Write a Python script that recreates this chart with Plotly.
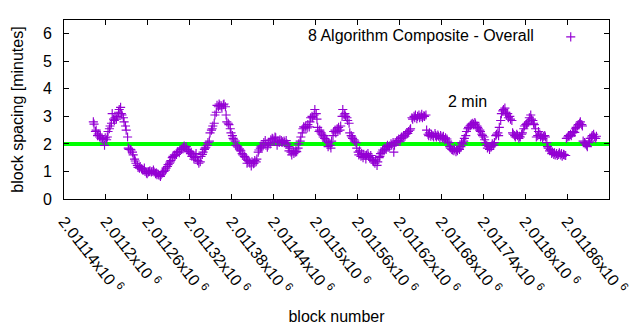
import plotly.graph_objects as go

# Block heights and the moving block spacing (minutes) sampled along the chain
blocks = [
    2011182, 2011183, 2011185, 2011186, 2011188, 2011189, 2011191,
    2011192, 2011193, 2011195, 2011196, 2011198, 2011199, 2011201,
    2011202, 2011203, 2011205, 2011206, 2011208, 2011209, 2011211,
    2011212, 2011213, 2011215, 2011216, 2011218, 2011219, 2011221,
    2011222, 2011223, 2011225, 2011226, 2011228, 2011229, 2011231,
    2011232, 2011233, 2011235, 2011236, 2011238, 2011239, 2011241,
    2011242, 2011243, 2011245, 2011246, 2011248, 2011249, 2011251,
    2011252, 2011253, 2011255, 2011256, 2011258, 2011259, 2011261,
    2011262, 2011263, 2011265, 2011266, 2011268, 2011269, 2011271,
    2011272, 2011273, 2011275, 2011276, 2011278, 2011279, 2011281,
    2011282, 2011283, 2011285, 2011286, 2011288, 2011289, 2011291,
    2011292, 2011293, 2011295, 2011296, 2011298, 2011299, 2011301,
    2011302, 2011303, 2011305, 2011306, 2011308, 2011309, 2011311,
    2011312, 2011313, 2011315, 2011316, 2011318, 2011319, 2011321,
    2011322, 2011323, 2011325, 2011326, 2011328, 2011329, 2011331,
    2011332, 2011333, 2011335, 2011336, 2011338, 2011339, 2011341,
    2011342, 2011343, 2011345, 2011346, 2011348, 2011349, 2011351,
    2011352, 2011353, 2011355, 2011356, 2011358, 2011359, 2011361,
    2011362, 2011363, 2011365, 2011366, 2011368, 2011369, 2011371,
    2011372, 2011373, 2011375, 2011376, 2011378, 2011379, 2011381,
    2011382, 2011383, 2011385, 2011386, 2011388, 2011389, 2011391,
    2011392, 2011393, 2011395, 2011396, 2011398, 2011399, 2011401,
    2011402, 2011403, 2011405, 2011406, 2011408, 2011409, 2011411,
    2011412, 2011413, 2011415, 2011416, 2011418, 2011419, 2011421,
    2011422, 2011423, 2011425, 2011426, 2011428, 2011429, 2011431,
    2011432, 2011433, 2011435, 2011436, 2011438, 2011439, 2011441,
    2011442, 2011443, 2011445, 2011446, 2011448, 2011449, 2011451,
    2011452, 2011453, 2011455, 2011456, 2011458, 2011459, 2011461,
    2011462, 2011463, 2011465, 2011466, 2011468, 2011469, 2011471,
    2011472, 2011473, 2011475, 2011476, 2011478, 2011479, 2011481,
    2011482, 2011483, 2011485, 2011486, 2011488, 2011489, 2011491,
    2011492, 2011493, 2011495, 2011496, 2011498, 2011499, 2011501,
    2011502, 2011503, 2011505, 2011506, 2011508, 2011509, 2011511,
    2011512, 2011513, 2011515, 2011516, 2011518, 2011519, 2011521,
    2011522, 2011523, 2011525, 2011526, 2011528, 2011529, 2011531,
    2011532, 2011533, 2011535, 2011536, 2011538, 2011539, 2011541,
    2011542, 2011543, 2011545, 2011546, 2011548, 2011549, 2011551,
    2011552, 2011553, 2011555, 2011556, 2011558, 2011559, 2011561,
    2011562, 2011563, 2011565, 2011566, 2011568, 2011569, 2011571,
    2011572, 2011573, 2011575, 2011576, 2011578, 2011579, 2011581,
    2011582, 2011583, 2011585, 2011586, 2011588, 2011589, 2011591,
    2011592, 2011593, 2011595, 2011596, 2011598, 2011599, 2011601,
    2011602, 2011603, 2011605, 2011606, 2011608, 2011609, 2011611,
    2011612, 2011613, 2011615, 2011616, 2011618, 2011619, 2011621,
    2011622, 2011623, 2011625, 2011626, 2011628, 2011629, 2011631,
    2011632, 2011633, 2011635, 2011636, 2011638, 2011639, 2011641,
    2011642, 2011643, 2011645, 2011646, 2011648, 2011649, 2011651,
    2011652, 2011653, 2011655, 2011656, 2011658, 2011659, 2011661,
    2011662, 2011663, 2011665, 2011666, 2011668, 2011669, 2011671,
    2011672, 2011673, 2011675, 2011676, 2011678, 2011679, 2011681,
    2011682, 2011683, 2011685, 2011686, 2011688, 2011689, 2011691,
    2011692, 2011693, 2011695, 2011696, 2011698, 2011699, 2011701,
    2011702, 2011703, 2011705, 2011706, 2011708, 2011709, 2011711,
    2011712, 2011713, 2011715, 2011716, 2011718, 2011719, 2011721,
    2011722, 2011723, 2011725, 2011726, 2011728, 2011729, 2011731,
    2011732, 2011733, 2011735, 2011736, 2011738, 2011739, 2011741,
    2011742, 2011743, 2011745, 2011746, 2011748, 2011749, 2011751,
    2011752, 2011753, 2011755, 2011756, 2011758, 2011759, 2011761,
    2011762, 2011763, 2011765, 2011766, 2011768, 2011769, 2011771,
    2011772, 2011773, 2011775, 2011776, 2011778, 2011779, 2011781,
    2011782, 2011783, 2011785, 2011786, 2011788, 2011789, 2011791,
    2011792, 2011793, 2011795, 2011796, 2011798, 2011799, 2011801,
    2011802, 2011803, 2011805, 2011806, 2011808, 2011809, 2011811,
    2011812, 2011813, 2011815, 2011816, 2011818, 2011819, 2011821,
    2011822, 2011823, 2011825, 2011826, 2011828, 2011829, 2011831,
    2011832, 2011833, 2011835, 2011836, 2011838, 2011839, 2011841,
    2011842, 2011843, 2011845, 2011846, 2011848, 2011849, 2011851,
    2011852, 2011853, 2011855, 2011856, 2011858, 2011859, 2011861,
    2011862, 2011863, 2011865, 2011866, 2011868, 2011869, 2011871,
    2011872, 2011873, 2011875, 2011876, 2011878, 2011879, 2011881,
    2011882, 2011883, 2011885, 2011886, 2011888, 2011889, 2011891,
    2011892, 2011893, 2011895, 2011896, 2011898, 2011899, 2011901,
    2011902,
]

spacing_minutes = [
    2.80, 2.72, 2.45, 2.50, 2.30, 2.36, 2.25,
    2.30, 2.20, 2.18, 2.15, 1.95, 2.22, 2.15,
    2.25, 2.45, 2.55, 2.65, 2.75, 3.10, 2.90,
    2.85, 2.95, 2.90, 3.00, 3.15, 3.25, 3.33,
    3.10, 3.05, 2.95, 2.80, 2.65, 2.50, 2.25,
    1.85, 1.80, 1.80, 1.78, 1.70, 1.60, 1.45,
    1.38, 1.30, 1.22, 1.15, 1.12, 1.18, 1.10,
    1.08, 1.05, 1.12, 1.00, 0.95, 0.92, 0.98,
    1.00, 1.02, 0.98, 1.00, 1.05, 0.98, 0.92,
    0.95, 0.88, 0.90, 0.86, 0.82, 0.88, 0.95,
    1.00, 1.00, 1.05, 1.12, 1.18, 1.25, 1.30,
    1.35, 1.40, 1.50, 1.55, 1.60, 1.58, 1.62,
    1.70, 1.72, 1.68, 1.78, 1.80, 1.85, 1.88,
    1.92, 1.85, 1.90, 1.80, 1.75, 1.72, 1.65,
    1.70, 1.55, 1.60, 1.45, 1.50, 1.65, 1.40,
    1.38, 1.30, 1.35, 1.55, 1.62, 1.70, 1.80,
    1.85, 1.88, 1.95, 2.05, 2.10, 2.40, 2.50,
    2.55, 2.65, 2.75, 3.05, 3.15, 3.40, 3.35,
    3.45, 3.40, 3.38, 3.30, 3.42, 3.45, 3.35,
    3.05, 2.80, 2.75, 2.70, 2.55, 2.40, 2.30,
    2.20, 2.15, 2.10, 1.95, 1.92, 1.88, 1.82,
    1.78, 1.75, 1.65, 1.60, 1.55, 1.52, 1.45,
    1.30, 1.40, 1.35, 1.30, 1.20, 1.35, 1.28,
    1.30, 1.40, 1.35, 1.45, 1.70, 1.78, 1.85,
    1.92, 1.88, 1.95, 2.05, 2.12, 1.95, 1.88,
    1.95, 2.05, 2.00, 2.15, 2.20, 2.18, 2.10,
    2.25, 2.22, 1.95, 2.10, 2.05, 2.15, 2.12,
    2.05, 2.08, 2.10, 2.05, 2.12, 2.00, 1.90,
    1.75, 1.85, 1.70, 1.60, 1.75, 1.65, 1.70,
    1.78, 1.72, 1.85, 2.00, 2.10, 2.25, 2.40,
    2.55, 2.62, 2.60, 2.65, 2.58, 2.70, 2.62,
    2.80, 2.95, 3.00, 2.95, 3.05, 3.25, 3.10,
    2.90, 2.60, 2.45, 2.50, 2.40, 2.35, 2.25,
    2.30, 2.20, 2.15, 2.10, 1.90, 2.05, 1.95,
    1.85, 2.10, 2.30, 2.45, 2.50, 2.40, 2.55,
    2.45, 2.60, 2.50, 2.65, 3.00, 3.25, 3.05,
    3.10, 3.00, 2.95, 2.85, 2.75, 2.40, 2.30,
    2.25, 2.20, 2.15, 2.10, 2.05, 1.85, 1.70,
    1.60, 1.75, 1.55, 1.65, 1.50, 1.62, 1.58,
    1.45, 1.60, 1.65, 1.55, 1.50, 1.58, 1.45,
    1.40, 1.35, 1.30, 1.42, 1.22, 1.35, 1.50,
    1.55, 1.65, 1.70, 1.78, 1.75, 1.85, 1.80,
    1.90, 1.95, 1.88, 1.92, 2.00, 1.95, 2.05,
    1.70, 1.95, 2.05, 2.10, 2.12, 2.18, 2.10,
    2.20, 2.25, 2.22, 2.30, 2.28, 2.35, 2.40,
    2.38, 2.45, 2.50, 2.55, 2.95, 2.90, 3.00,
    2.95, 3.05, 2.92, 3.00, 3.05, 2.95, 3.00,
    3.08, 2.95, 3.02, 3.00, 3.05, 2.50, 2.35,
    2.30, 2.40, 2.28, 2.35, 2.30, 2.25, 2.38,
    2.30, 2.25, 2.32, 2.28, 2.20, 2.30, 2.25,
    2.20, 2.28, 2.15, 2.22, 2.18, 2.10, 2.05,
    1.90, 1.85, 1.80, 1.78, 1.75, 1.82, 1.72,
    1.80, 1.75, 1.85, 1.80, 1.90, 2.05, 2.00,
    2.10, 2.20, 2.30, 2.45, 2.55, 2.60, 2.65,
    2.68, 2.72, 2.75, 2.70, 2.78, 2.72, 2.65,
    2.60, 2.55, 2.50, 2.45, 2.35, 2.30, 2.25,
    2.15, 2.05, 1.95, 1.85, 1.90, 1.80, 1.88,
    1.92, 2.00, 1.95, 2.05, 2.30, 2.35, 2.40,
    2.30, 2.60, 2.85, 3.10, 3.20, 3.25, 3.30,
    3.15, 3.05, 3.10, 2.95, 3.00, 2.90, 2.85,
    2.40, 2.35, 2.30, 2.25, 2.35, 2.30, 2.20,
    2.28, 2.25, 2.35, 2.40, 2.55, 2.65, 2.70,
    2.72, 2.75, 2.80, 2.95, 3.05, 2.90, 2.85,
    2.75, 2.70, 2.55, 2.25, 2.30, 2.45, 2.35,
    2.25, 2.30, 2.20, 2.28, 2.30, 2.25, 2.05,
    1.90, 1.85, 1.75, 1.80, 1.65, 1.70, 1.62,
    1.68, 1.60, 1.65, 1.58, 1.62, 1.68, 1.60,
    1.65, 1.55, 1.62, 1.60, 1.58, 2.20, 2.25,
    2.30, 2.28, 2.35, 2.30, 2.40, 2.45, 2.42,
    2.55, 2.60, 2.65, 2.70, 2.75, 2.80, 2.70,
    2.65, 2.10, 2.05, 2.00, 1.95, 1.90, 2.05,
    2.10, 2.20, 2.25, 2.30, 2.35, 2.25, 2.20,
    2.28,
]

# Axis layout
x_min, x_max = 2011140, 2011920
y_min, y_max = 0, 6.5
x_tick_vals = [2011140 + 60 * i for i in range(14)]
x_tick_text = [
    "2.01114x10 <sup>6</sup>", "2.0112x10 <sup>6</sup>", "2.01126x10 <sup>6</sup>",
    "2.01132x10 <sup>6</sup>", "2.01138x10 <sup>6</sup>", "2.01144x10 <sup>6</sup>",
    "2.0115x10 <sup>6</sup>", "2.01156x10 <sup>6</sup>", "2.01162x10 <sup>6</sup>",
    "2.01168x10 <sup>6</sup>", "2.01174x10 <sup>6</sup>", "2.0118x10 <sup>6</sup>",
    "2.01186x10 <sup>6</sup>", "2.01192x10 <sup>6</sup>",
]
y_tick_vals = [0, 1, 2, 3, 4, 5, 6]

# Target block time and its label
target_minutes = 2
target_label = "2 min"
target_label_block = 2011686
target_label_minutes = 3.53

series_name = "8 Algorithm Composite - Overall"
FONT = "Liberation Sans, Arial, sans-serif"
FS = 16
PURPLE = "#9400D3"
GREEN = "#00FF00"

fig = go.Figure()

# Target line
fig.add_trace(go.Scatter(
    x=[x_min, x_max], y=[target_minutes, target_minutes],
    mode="lines", line=dict(color=GREEN, width=4),
    showlegend=False, hoverinfo="skip",
))

# Block spacing samples
fig.add_trace(go.Scatter(
    x=blocks, y=spacing_minutes, mode="markers", name=" ",
    marker=dict(symbol="cross-thin", size=6.5, color=PURPLE,
                line=dict(color=PURPLE, width=1.15)),
))

fig.add_annotation(
    x=target_label_block, y=target_label_minutes, text=target_label,
    xanchor="left", yanchor="middle", showarrow=False,
    font=dict(family=FONT, size=FS, color="#000000"),
)

axis_common = dict(
    showline=True, linecolor="#000000", linewidth=1, mirror="allticks",
    ticks="inside", ticklen=5, tickcolor="#000000", tickwidth=1,
    showgrid=False, zeroline=False, automargin=False,
    tickfont=dict(family=FONT, size=FS, color="#000000"),
    title_font=dict(family=FONT, size=FS, color="#000000"),
)

fig.update_xaxes(
    range=[x_min, x_max], tickmode="array", tickvals=x_tick_vals,
    ticktext=x_tick_text, tickangle=52, ticklabelstandoff=6,
    title_text="block number", title_standoff=14, **axis_common,
)
fig.update_yaxes(
    range=[y_min, y_max], tickmode="array", tickvals=y_tick_vals,
    ticktext=[str(v) for v in y_tick_vals], ticklabelstandoff=8,
    title_text="block spacing [minutes]", title_standoff=15, **axis_common,
)

fig.update_layout(
    width=640, height=330,
    margin=dict(l=64, r=31, t=20, b=131, pad=0),
    paper_bgcolor="#ffffff", plot_bgcolor="#ffffff",
    font=dict(family=FONT, size=FS, color="#000000"),
    showlegend=True,
    legend=dict(
        x=0.444, xanchor="left", y=1.0, yanchor="top",
        bgcolor="rgba(0,0,0,0)", borderwidth=0,
        title=dict(text=series_name + "&nbsp;&nbsp;", side="left",
                   font=dict(family=FONT, size=FS, color="#000000")),
        itemwidth=30,
    ),
)

fig.write_html("out.html")
